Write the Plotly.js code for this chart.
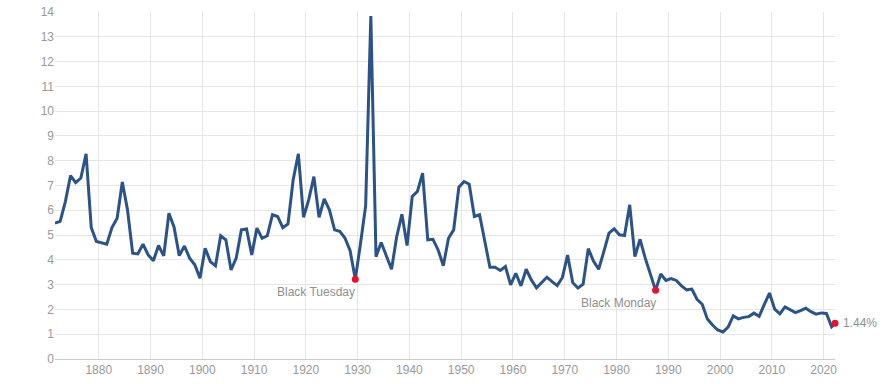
<!DOCTYPE html>
<html>
<head>
<meta charset="utf-8">
<script src="https://cdn.plot.ly/plotly-3.0.1.min.js"></script>
<style>
  html, body { margin: 0; padding: 0; background: #fff; }
  #chart { width: 890px; height: 384px; }
</style>
</head>
<body>
<div id="chart"></div>
<script>
// S&P 500 dividend yield (%), one value per year
const years = [];
for (let y = 1871; y <= 2021; y++) years.push(y);

const yields = [
  5.48, 5.55, 6.35, 7.40, 7.12, 7.30, 8.28, 5.30, 4.74,            // 1871-1879
  4.67, 4.63, 5.30, 5.68, 7.14, 6.02, 4.27, 4.24, 4.63, 4.20,      // 1880-1889
  3.96, 4.58, 4.16, 5.88, 5.32, 4.17, 4.56, 4.07, 3.80, 3.26,      // 1890-1899
  4.47, 3.93, 3.76, 4.97, 4.81, 3.59, 4.07, 5.21, 5.25, 4.20,      // 1900-1909
  5.28, 4.87, 4.97, 5.82, 5.75, 5.30, 5.45, 7.23, 8.28, 5.72,      // 1910-1919
  6.42, 7.36, 5.72, 6.46, 6.02, 5.21, 5.15, 4.88, 4.37, 3.22,      // 1920-1929
  4.65, 6.18, 13.84, 4.13, 4.70, 4.16, 3.62, 4.94, 5.84, 4.58,     // 1930-1939
  6.56, 6.76, 7.50, 4.81, 4.83, 4.40, 3.76, 4.87, 5.21, 6.93,      // 1940-1949
  7.16, 7.05, 5.75, 5.82, 4.78, 3.70, 3.70, 3.57, 3.73, 2.99,      // 1950-1959
  3.46, 2.95, 3.62, 3.19, 2.87, 3.07, 3.30, 3.12, 2.96, 3.29,      // 1960-1969
  4.19, 3.08, 2.86, 3.02, 4.45, 3.95, 3.62, 4.33, 5.08, 5.25,      // 1970-1979
  5.01, 4.98, 6.22, 4.13, 4.83, 4.07, 3.39, 2.77, 3.43, 3.17,      // 1980-1989
  3.24, 3.17, 2.95, 2.79, 2.82, 2.41, 2.21, 1.61, 1.37, 1.17,      // 1990-1999
  1.09, 1.29, 1.74, 1.62, 1.68, 1.71, 1.85, 1.72, 2.20, 2.66,      // 2000-2009
  2.01, 1.82, 2.10, 1.98, 1.87, 1.95, 2.05, 1.91, 1.81, 1.86,      // 2010-2019
  1.84, 1.30                                                       // 2020-2021
];

// Latest reading
const currentDate = 2022.2;
const currentValue = 1.44;

// Highlighted events
const eventYears = [1929, 1987];
const eventNames = ["Black Tuesday", "Black Monday"];

// Axis ticks
const xTicks = [1880, 1890, 1900, 1910, 1920, 1930, 1940, 1950, 1960, 1970, 1980, 1990, 2000, 2010, 2020];
const yTicks = [0, 1, 2, 3, 4, 5, 6, 7, 8, 9, 10, 11, 12, 13, 14];

const MID = 0.55; // values plotted within their year
const lineX = years.map(y => y + MID).concat([currentDate]);
const lineY = yields.concat([currentValue]);

const evX = eventYears.map(y => y + MID);
const evY = eventYears.map(y => yields[years.indexOf(y)]);

const lineColor = '#2b5388';
const red = '#e8112d';
const grey = '#999999';
const font = 'Arial, "Liberation Sans", Helvetica, sans-serif';

const traces = [
  {
    x: lineX, y: lineY, type: 'scatter', mode: 'lines',
    line: { color: lineColor, width: 3 }, hoverinfo: 'skip'
  },
  {
    x: evX.concat([currentDate]), y: evY.concat([currentValue]),
    type: 'scatter', mode: 'markers', cliponaxis: false,
    marker: { color: red, size: 7 }, hoverinfo: 'skip'
  }
];

const annotations = evX.map((x, i) => ({
  x: x, y: evY[i], xref: 'x', yref: 'y', text: eventNames[i],
  showarrow: false, xanchor: 'right', yanchor: 'top', yshift: -4, xshift: 2,
  font: { family: font, size: 12, color: '#8f8f8f' }
}));
annotations.push({
  x: currentDate, y: currentValue, xref: 'x', yref: 'y',
  text: currentValue.toFixed(2) + '%', showarrow: false,
  xanchor: 'left', yanchor: 'middle', xshift: 6,
  font: { family: font, size: 12, color: '#8f8f8f' }
});

const layout = {
  width: 890, height: 384,
  margin: { l: 55, r: 55, t: 12, b: 25, pad: 0 },
  paper_bgcolor: '#fff', plot_bgcolor: '#fff',
  showlegend: false,
  font: { family: font, size: 12, color: grey },
  xaxis: {
    range: [1871.55, currentDate],
    tickmode: 'array', tickvals: xTicks, ticktext: xTicks.map(String),
    showgrid: true, gridcolor: '#e6e6e6', gridwidth: 1,
    showline: true, linecolor: '#cccccc', linewidth: 1,
    zeroline: false, ticks: '', ticklen: 0,
    tickfont: { family: font, size: 12, color: grey }
  },
  yaxis: {
    range: [0, 14],
    tickmode: 'array', tickvals: yTicks, ticktext: yTicks.map(String),
    showgrid: true, gridcolor: '#e6e6e6', gridwidth: 1,
    zeroline: false, showline: false, ticks: '', ticklen: 0,
    tickfont: { family: font, size: 12, color: grey }
  },
  annotations: annotations
};

Plotly.newPlot('chart', traces, layout, { displayModeBar: false, staticPlot: true });
</script>
</body>
</html>
